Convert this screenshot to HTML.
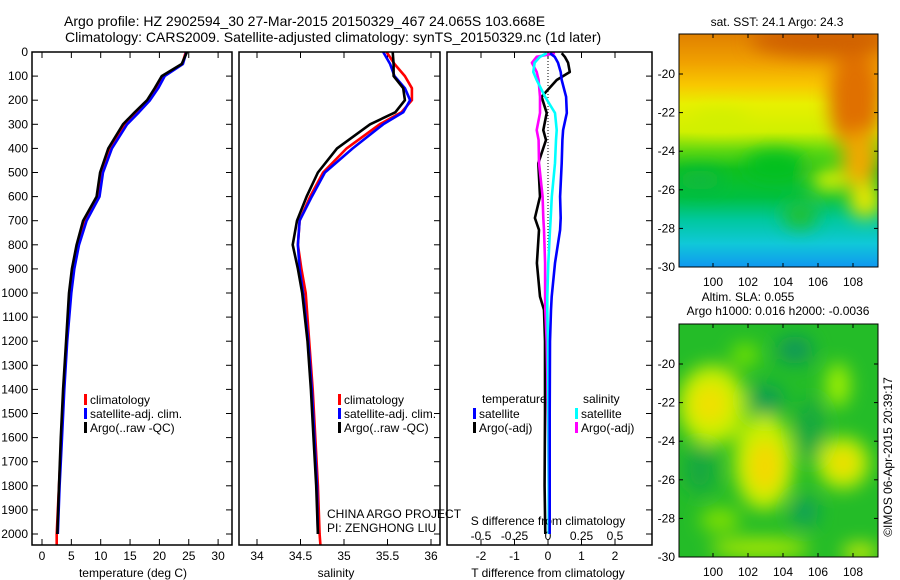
<!DOCTYPE html>
<html><head><meta charset="utf-8"><style>
body{margin:0;background:#fff}
svg{display:block;font-family:"Liberation Sans",sans-serif}
text{font-size:12px;fill:#000}
</style></head><body>
<svg id="c" width="900" height="580" viewBox="0 0 900 580">
<defs>
<clipPath id="cp1"><rect x="32" y="52" width="200" height="493"/></clipPath>
<clipPath id="cp2"><rect x="239" y="52" width="201" height="493"/></clipPath>
<clipPath id="cp3"><rect x="447" y="52" width="205" height="493"/></clipPath>
<clipPath id="cm1"><rect x="679" y="34" width="199" height="233"/></clipPath>
<clipPath id="cm2"><rect x="679" y="324" width="199" height="233"/></clipPath>
<filter id="bl" x="-50%" y="-50%" width="200%" height="200%"><feGaussianBlur stdDeviation="9"/></filter>
<linearGradient id="sstg" x1="0" y1="0" x2="0" y2="1">
<stop offset="0" stop-color="#e08000"/><stop offset="0.12" stop-color="#f0a000"/>
<stop offset="0.22" stop-color="#f8c800"/><stop offset="0.3" stop-color="#e8f000"/>
<stop offset="0.42" stop-color="#d0f000"/><stop offset="0.5" stop-color="#60d810"/>
<stop offset="0.58" stop-color="#10c020"/><stop offset="0.7" stop-color="#00c040"/>
<stop offset="0.8" stop-color="#00c8a0"/><stop offset="0.9" stop-color="#10c8d8"/>
<stop offset="1" stop-color="#1098f0"/></linearGradient>
</defs>
<g>
<text x="64" y="26" style="font-size:14px">Argo profile: HZ 2902594_30 27-Mar-2015 20150329_467 24.065S 103.668E</text>
<text x="65" y="42" style="font-size:14px">Climatology: CARS2009. Satellite-adjusted climatology: synTS_20150329.nc (1d later)</text>
</g>
<g id="p1"></g>
<g id="p2"></g>
<g id="p3"></g>
<g id="maps">
<g clip-path="url(#cm1)">
<rect x="679" y="34" width="199" height="233" fill="url(#sstg)"/>
<g filter="url(#bl)">
<ellipse cx="855" cy="100" rx="26" ry="50" fill="#e07000"/>
<ellipse cx="860" cy="160" rx="18" ry="30" fill="#f0a800"/>
<ellipse cx="820" cy="40" rx="70" ry="16" fill="#d06000"/>
<ellipse cx="865" cy="200" rx="16" ry="18" fill="#e8e800"/>
<ellipse cx="830" cy="180" rx="18" ry="12" fill="#d8f000"/>
<ellipse cx="700" cy="180" rx="22" ry="10" fill="#10b840"/>
<ellipse cx="775" cy="165" rx="30" ry="14" fill="#00c020"/>
<ellipse cx="800" cy="215" rx="18" ry="14" fill="#20c030"/>
<ellipse cx="720" cy="120" rx="30" ry="10" fill="#d0f000"/>
</g>
</g>
<rect x="679" y="34" width="199" height="233" fill="none" stroke="#000"/>
<g clip-path="url(#cm2)">
<rect x="679" y="324" width="199" height="233" fill="#24bc28"/>
<g filter="url(#bl)">
<ellipse cx="712" cy="405" rx="34" ry="40" fill="#c8f000"/>
<ellipse cx="710" cy="404" rx="18" ry="20" fill="#f0e000"/>
<ellipse cx="764" cy="462" rx="30" ry="48" fill="#c8f000"/>
<ellipse cx="765" cy="466" rx="16" ry="26" fill="#f4d800"/>
<ellipse cx="843" cy="463" rx="26" ry="26" fill="#c8f000"/>
<ellipse cx="843" cy="463" rx="12" ry="12" fill="#f4d800"/>
<ellipse cx="838" cy="385" rx="12" ry="22" fill="#a0f000"/>
<ellipse cx="745" cy="355" rx="14" ry="12" fill="#70e000"/>
<ellipse cx="720" cy="520" rx="20" ry="12" fill="#80e000"/>
<ellipse cx="795" cy="350" rx="18" ry="14" fill="#109858"/>
<ellipse cx="766" cy="400" rx="18" ry="16" fill="#10a050"/>
<ellipse cx="805" cy="512" rx="14" ry="14" fill="#10a058"/>
<ellipse cx="700" cy="470" rx="16" ry="24" fill="#18a840"/>
<ellipse cx="810" cy="430" rx="14" ry="30" fill="#18a840"/>
<ellipse cx="760" cy="548" rx="50" ry="10" fill="#a8e800"/>
<ellipse cx="860" cy="552" rx="18" ry="8" fill="#d8f000"/>
</g>
</g>
<rect x="679" y="324" width="199" height="233" fill="none" stroke="#000"/>
<text x="777" y="26" text-anchor="middle">sat. SST: 24.1 Argo: 24.3</text>
<text x="748" y="301" text-anchor="middle">Altim. SLA: 0.055</text>
<text x="778" y="315" text-anchor="middle">Argo h1000: 0.016 h2000: -0.0036</text>
<text transform="translate(892,457) rotate(-90)" text-anchor="middle">©IMOS 06-Apr-2015 20:39:17</text>
</g>
<g id="leg"></g>
</svg>
<script>
// ---- data ----
var depthsT = [0,50,100,150,200,250,300,400,500,600,700,800,900,1000,1200,1400,1600,1800,2000,2050];
var tempArgo = [24.7,23.8,20.4,19.2,17.9,15.8,13.8,11.3,9.9,9.3,7.0,5.9,5.1,4.6,4.1,3.6,3.2,2.9,2.6];
var tempClim = [24.5,23.9,20.7,19.5,18.1,16.1,14.1,11.6,10.1,9.5,7.3,6.1,5.3,4.8,4.2,3.7,3.3,2.9,2.5,2.5];
var tempSat = [24.6,24.0,20.9,19.8,18.4,16.5,14.5,11.9,10.4,9.8,7.6,6.3,5.5,5.0,4.3,3.8,3.4,3.0,2.7];
var salArgo = [35.56,35.57,35.57,35.68,35.70,35.59,35.30,34.92,34.70,34.57,34.46,34.41,34.47,34.52,34.58,34.62,34.65,34.68,34.70];
var salClim = [35.49,35.58,35.70,35.78,35.78,35.66,35.41,35.03,34.76,34.61,34.49,34.47,34.51,34.56,34.60,34.64,34.67,34.70,34.72,34.73];
var salSat = [35.45,35.53,35.58,35.70,35.76,35.68,35.45,35.10,34.78,34.63,34.49,34.47,34.49,34.53,34.59,34.63,34.66,34.69,34.70];
var depthsD = [5,20,45,83,116,186,253,324,365,461,600,689,738,876,1015,1070,1200,1500,1800,2000];
var dTArgo = [0.41,0.5,0.6,0.65,0.26,-0.19,-0.04,-0.14,-0.06,-0.29,-0.24,-0.39,-0.27,-0.33,-0.24,-0.12,-0.09,-0.09,-0.1,-0.08];
var dTSat = [0.06,0.2,0.30,0.38,0.41,0.54,0.56,0.45,0.43,0.41,0.36,0.38,0.36,0.21,0.11,0.09,0.06,0.05,0.05,0.05];
var dSArgo = [0.052,-0.084,-0.12,-0.084,-0.07,-0.06,-0.06,-0.084,-0.07,-0.067,-0.04,-0.035,-0.03,-0.022,-0.022,-0.02,-0.01,0.0,0.005,0.007];
var dSSat = [-0.01,-0.06,-0.1,-0.11,-0.084,-0.022,0.052,0.065,0.06,0.052,0.028,0.02,0.015,0.002,-0.005,-0.005,0.0,0.003,0.005,0.005];
var depthTicks = [0,100,200,300,400,500,600,700,800,900,1000,1100,1200,1300,1400,1500,1600,1700,1800,1900,2000];
var tempTicks = [0,5,10,15,20,25,30];
var salTicks = [34,34.5,35,35.5,36];
var salTickLabels = ["34","34.5","35","35.5","36"];
var dTTicks = [-2,-1,0,1,2];
var dSTicks = [-0.5,-0.25,0,0.25,0.5];
var dSTickLabels = ["-0.5","-0.25","0","0.25","0.5"];
var latTicks = [-20,-22,-24,-26,-28,-30];
var lonTicks = [100,102,104,106,108];

// ---- axes ----
function yD(d){return 52+d*0.241;}
function xT(t){return 42+t*5.87;}
function xS(s){return 257+(s-34)*87;}
function xDT(t){return 548+t*33.5;}
function xDS(s){return 548+s*134;}
function yLat(l){return 74+(-20-l)*19.3;}
function xLon(l){return 713+(l-100)*17.5;}

var NS="http://www.w3.org/2000/svg";
function mk(tag,attrs,parent){var e=document.createElementNS(NS,tag);for(var k in attrs)e.setAttribute(k,attrs[k]);parent.appendChild(e);return e;}
function line(g,xs,ds,xf,color,name,clip){
  var pts=[];for(var i=0;i<xs.length;i++)pts.push(xf(xs[i]).toFixed(1)+","+yD(ds[i]).toFixed(1));
  var p=mk("polyline",{points:pts.join(" "),fill:"none",stroke:color,"stroke-width":"2.6","stroke-linejoin":"round","clip-path":clip},g);
  
  
}
function frame(g,x,w,name){
  var r=mk("rect",{x:x,y:52,width:w,height:493,fill:"none",stroke:"#000","stroke-width":"1.5"},g);
  
  
}
function txt(g,x,y,s,anchor,name){
  var t=mk("text",{x:x,y:y,"text-anchor":anchor||"start"},g);t.textContent=s;
  
  
  return t;
}
function tick(g,x1,y1,x2,y2){mk("line",{x1:x1,y1:y1,x2:x2,y2:y2,stroke:"#000","stroke-width":"1"},g);}

var p1=document.getElementById("p1"),p2=document.getElementById("p2"),p3=document.getElementById("p3");
depthTicks.forEach(function(d){
  var y=yD(d);tick(p1,32,y,38,y);tick(p1,232,y,226,y);tick(p2,440,y,434,y);tick(p3,652,y,646,y);
  txt(p1,28,y+4,String(d),"end","depth-tick-label");
});
tempTicks.forEach(function(t){var x=xT(t);tick(p1,x,52,x,58);tick(p1,x,545,x,539);txt(p1,x,560,String(t),"middle","temp-tick-label");});
txt(p1,133,577,"temperature (deg C)","middle","temp-axis-title");
line(p1,tempClim,depthsT,xT,"#ff0000","temp-climatology-line","url(#cp1)");
line(p1,tempSat,depthsT,xT,"#0000ff","temp-satellite-line","url(#cp1)");
line(p1,tempArgo,depthsT,xT,"#000000","temp-argo-line","url(#cp1)");
frame(p1,32,200,"temp-panel-frame");
salTicks.forEach(function(s,i){var x=xS(s);tick(p2,x,52,x,58);tick(p2,x,545,x,539);txt(p2,x,560,salTickLabels[i],"middle","sal-tick-label");});
txt(p2,336,577,"salinity","middle","sal-axis-title");
line(p2,salClim,depthsT,xS,"#ff0000","sal-climatology-line","url(#cp2)");
line(p2,salSat,depthsT,xS,"#0000ff","sal-satellite-line","url(#cp2)");
line(p2,salArgo,depthsT,xS,"#000000","sal-argo-line","url(#cp2)");
frame(p2,239,201,"sal-panel-frame");
dTTicks.forEach(function(t){var x=xDT(t);tick(p3,x,52,x,58);tick(p3,x,545,x,539);txt(p3,x,560,String(t),"middle","tdiff-tick-label");});
dSTicks.forEach(function(s,i){txt(p3,xDS(s),540,dSTickLabels[i],"middle","sdiff-tick-label");});
txt(p3,548,577,"T difference from climatology","middle","tdiff-axis-title");
txt(p3,548,525,"S difference from climatology","middle","sdiff-axis-title");
var z=mk("line",{x1:xDT(0),y1:52,x2:xDT(0),y2:yD(1000),stroke:"#000","stroke-width":"1","stroke-dasharray":"1,2"},p3);


line(p3,dTArgo,depthsD,xDT,"#000000","tdiff-argo-line","url(#cp3)");
line(p3,dSArgo,depthsD,xDS,"#ff00ff","sdiff-argo-line","url(#cp3)");
line(p3,dSSat,depthsD,xDS,"#00ffff","sdiff-satellite-line","url(#cp3)");
line(p3,dTSat,depthsD,xDT,"#0000ff","tdiff-satellite-line","url(#cp3)");
frame(p3,447,205,"diff-panel-frame");
txt(p2,327,518,"CHINA ARGO PROJECT","start","project-credit");
txt(p2,327,532,"PI: ZENGHONG LIU","start","pi-credit");
var leg=document.getElementById("leg");
function entry(x,y,color,label){
  var r=mk("rect",{x:x,y:y-6,width:3,height:11,fill:color},leg);
  
  
  txt(leg,x+6,y+4,label,"start","legend-entry");
}
[[84,"#ff0000","climatology"],[84,"#0000ff","satellite-adj. clim."],[84,"#000000","Argo(..raw -QC)"]].forEach(function(e,i){entry(e[0],400+i*14,e[1],e[2]);});
[[338,"#ff0000","climatology"],[338,"#0000ff","satellite-adj. clim."],[338,"#000000","Argo(..raw -QC)"]].forEach(function(e,i){entry(e[0],400+i*14,e[1],e[2]);});
txt(leg,482,403,"temperature","start","legend-heading-temperature");
txt(leg,583,403,"salinity","start","legend-heading-salinity");
entry(473,414,"#0000ff","satellite");entry(473,428,"#000000","Argo(-adj)");
entry(575,414,"#00ffff","satellite");entry(575,428,"#ff00ff","Argo(-adj)");
var maps=document.getElementById("maps");
[0,290].forEach(function(off){
  latTicks.forEach(function(l){var y=yLat(l)+off;tick(maps,679,y,683,y);tick(maps,878,y,874,y);txt(maps,675,y+4,String(l),"end","lat-tick-label");});
  lonTicks.forEach(function(l){var x=xLon(l);tick(maps,x,34+off,x,38+off);tick(maps,x,267+off,x,263+off);txt(maps,x,286+off,String(l),"middle","lon-tick-label");});
});
</script>
</body></html>
